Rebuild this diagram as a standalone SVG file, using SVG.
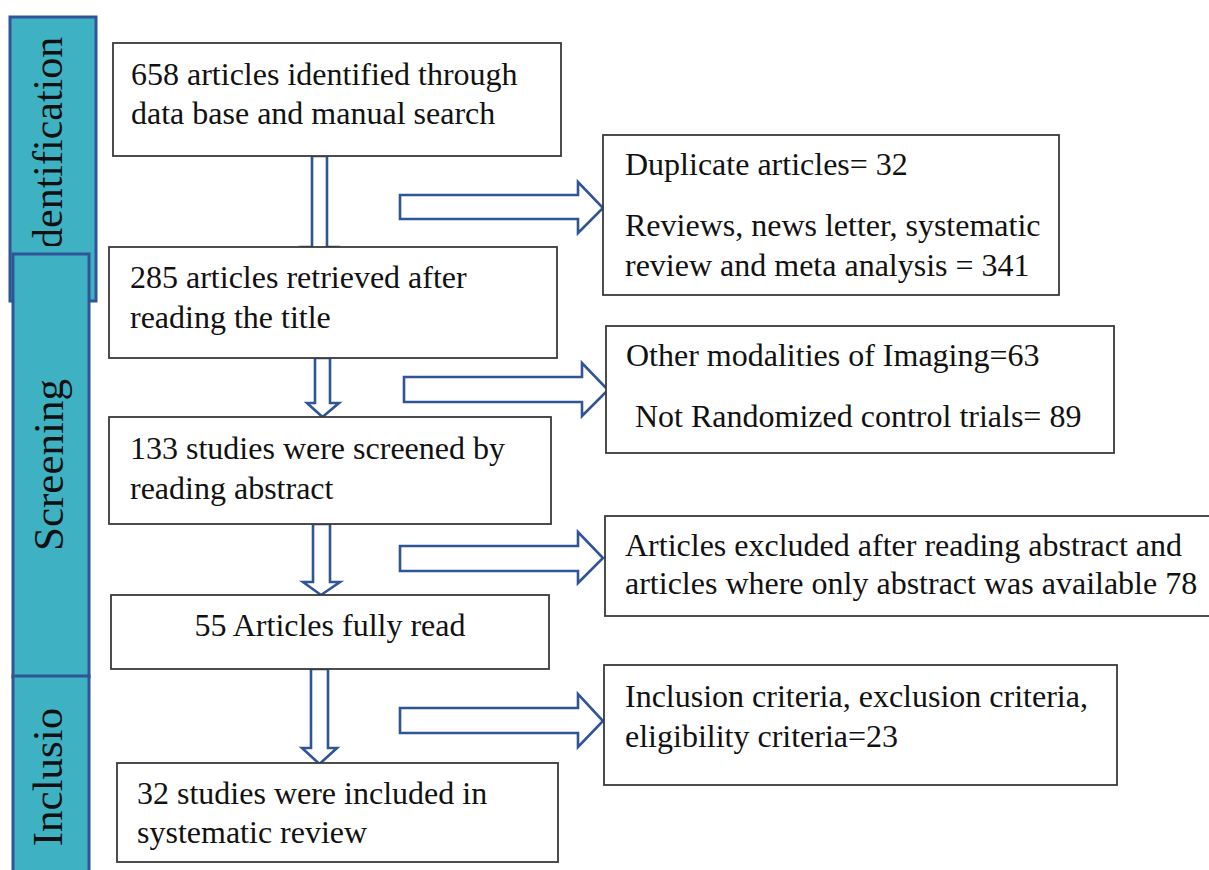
<svg xmlns="http://www.w3.org/2000/svg" width="1209" height="870" viewBox="0 0 1209 870">
<style>
.bar{fill:#3EB2C3;stroke:#2F5597;stroke-width:3}
.bt{font-family:"Liberation Serif","Times New Roman",serif;font-size:43px;fill:#111}
.box{fill:#fff;stroke:#3a3a3a;stroke-width:1.8}
.t{font-family:"Liberation Serif","Times New Roman",serif;font-size:32px;fill:#111}
.arr{fill:#fff;stroke:#2F5597;stroke-width:2.6;stroke-linejoin:miter}
</style>
<defs>
<clipPath id="clipId"><rect x="0" y="0" width="120" height="246"/></clipPath>
</defs>
<rect width="1209" height="870" fill="#fff"/>
<g id="phase-identification">
<rect class="bar" x="10" y="17" width="86" height="284"/>
<g clip-path="url(#clipId)">
<text class="bt" style="font-size:42px" transform="translate(62,249) rotate(-90)">dentification</text>
</g>
</g>
<g id="phase-screening">
<rect class="bar" x="13" y="254" width="76" height="423"/>
<text class="bt" text-anchor="middle" transform="translate(63,465) rotate(-90)">Screening</text>
</g>
<g id="phase-inclusion">
<rect class="bar" x="13" y="676" width="76" height="200"/>
<text class="bt" text-anchor="middle" transform="translate(62,777) rotate(-90)">Inclusio</text>
</g>
<g id="connectors">
<path class="arr" d="M312,156 L327,156 L327,247 L337,247 L319.5,262 L302,247 L312,247 Z"/>
<path class="arr" d="M400,195 L578,195 L578,182 L603,208 L578,233 L578,219 L400,219 Z"/>
<path class="arr" d="M315,358 L330,358 L330,403 L339,403 L322.5,417 L307,403 L315,403 Z"/>
<path class="arr" d="M404,377 L582,377 L582,363 L608,390 L582,416 L582,402 L404,402 Z"/>
<path class="arr" d="M313,524 L330,524 L330,582 L340,582 L321,595 L303,582 L313,582 Z"/>
<path class="arr" d="M400,546 L578,546 L578,532 L603,558 L578,583 L578,571 L400,571 Z"/>
<path class="arr" d="M311,669 L328,669 L328,748 L337,748 L319.5,764 L302,748 L311,748 Z"/>
<path class="arr" d="M400,708 L578,708 L578,694 L603,721 L578,747 L578,733 L400,733 Z"/>
</g>
<g id="node-identified">
<rect class="box" x="113" y="43" width="448" height="113"/>
<text class="t" x="131" y="85">658 articles identified through</text>
<text class="t" x="131" y="124">data base and manual search</text>
</g>
<g id="node-title">
<rect class="box" x="109" y="247" width="448" height="111"/>
<text class="t" x="130" y="288">285 articles retrieved after</text>
<text class="t" x="130" y="328">reading the title</text>
</g>
<g id="node-abstract">
<rect class="box" x="109" y="417" width="442" height="107"/>
<text class="t" x="130" y="459">133 studies were screened by</text>
<text class="t" x="130" y="499">reading abstract</text>
</g>
<g id="node-fullread">
<rect class="box" x="111" y="595" width="438" height="74"/>
<text class="t" x="330" y="636" text-anchor="middle">55 Articles fully read</text>
</g>
<g id="node-included">
<rect class="box" x="117" y="763" width="441" height="99"/>
<text class="t" x="137" y="804">32 studies were included in</text>
<text class="t" x="137" y="843">systematic review</text>
</g>
<g id="excl-duplicates">
<rect class="box" x="603" y="135" width="456" height="160"/>
<text class="t" x="625" y="175">Duplicate articles= 32</text>
<text class="t" x="625" y="236">Reviews, news letter, systematic</text>
<text class="t" x="625" y="276">review and meta analysis = 341</text>
</g>
<g id="excl-modalities">
<rect class="box" x="606" y="326" width="508" height="127"/>
<text class="t" x="626" y="366">Other modalities of Imaging=63</text>
<text class="t" x="635" y="427">Not Randomized control trials= 89</text>
</g>
<g id="excl-abstract">
<rect class="box" x="605" y="516" width="620" height="100"/>
<text class="t" x="625" y="556">Articles excluded after reading abstract and</text>
<text class="t" x="625" y="594">articles where only abstract was available 78</text>
</g>
<g id="excl-criteria">
<rect class="box" x="604" y="665" width="513" height="120"/>
<text class="t" x="625" y="707">Inclusion criteria, exclusion criteria,</text>
<text class="t" x="625" y="747">eligibility criteria=23</text>
</g>
</svg>
